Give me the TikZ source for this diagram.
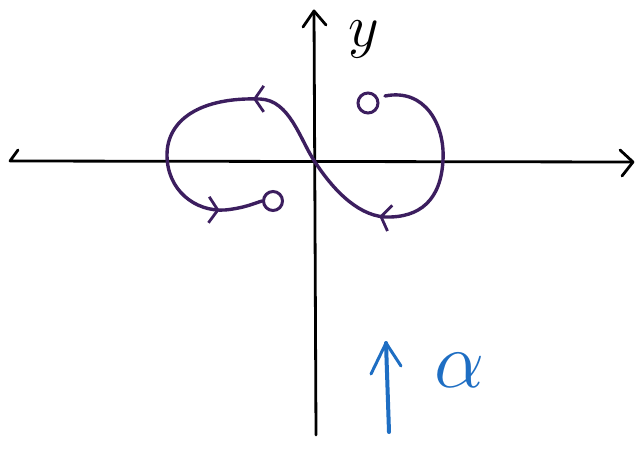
\documentclass[tikz,border=0pt]{standalone}
\usepackage{amsmath}
\usetikzlibrary{arrows.meta,decorations.markings}
\definecolor{inkpurple}{RGB}{60,30,95}
\definecolor{inkblue}{RGB}{30,110,195}

\begin{document}
\begin{tikzpicture}[x=1pt,y=-1pt,
 ax/.style={line width=2.8pt,line cap=round,line join=round},
 orb/.style={draw=inkpurple,line width=3.4pt,line cap=round},
 chev/.style={line width=3pt,line cap=round,line join=round},
 dir/.style={postaction={decorate},decoration={markings,
  mark=at position 0.32 with {\arrow[inkpurple]{Straight Barb[length=9pt,width=26pt,line width=2.8pt]}},
  mark=at position 0.61 with {\arrow[inkpurple]{Straight Barb[length=9pt,width=26pt,line width=2.8pt]}},
  mark=at position 0.93 with {\arrow[inkpurple]{Straight Barb[length=9pt,width=26pt,line width=2.8pt]}}}}]
\useasboundingbox (0,0) rectangle (637,454);
\fill[white] (0,0) rectangle (637,454);
% axes
\coordinate (o) at (315,162);
\coordinate (xl) at (10,161);
\coordinate (xr) at (633,162);
\coordinate (yb) at (316,435);
\coordinate (yt) at (314,11);
\draw[ax] (18,150) -- (xl) -- (xr);
\draw[ax] (620,150) -- (xr) -- (622,176);
\draw[ax] (yb) -- (yt);
\draw[ax] (303,27) -- (yt) -- (326,25);
\node[font=\Huge,scale=2.4,inner sep=0pt,anchor=base] (ylab) at (364,47) {$y$};
% orbit through the origin
\node[draw=inkpurple,circle,line width=3pt,minimum size=20pt,inner sep=0pt] (c1) at (368,103) {};
\node[draw=inkpurple,circle,line width=3pt,minimum size=19pt,inner sep=0pt] (c2) at (273,201) {};
\draw[orb,dir] (385,96) .. controls (425,88) and (445,125) .. (443,160)
 .. controls (441,200) and (420,218) .. (385,217)
 .. controls (355,215) and (330,185) .. (o)
 .. controls (300,140) and (290,100) .. (260,99)
 .. controls (200,97) and (167,120) .. (167,155)
 .. controls (167,190) and (195,212) .. (225,210)
 .. controls (245,208) and (255,203) .. (c2.west);
% blue label
\coordinate (ab) at (389,432);
\coordinate (at) at (386,343);
\draw[inkblue,line width=4pt,line cap=round] (ab) -- (at);
\draw[inkblue,chev] (371,374) -- (at) -- (401,366);
\node[inkblue,font=\Huge,scale=3.2] (alab) at (460,370) {$\alpha$};
\end{tikzpicture}
\end{document}
